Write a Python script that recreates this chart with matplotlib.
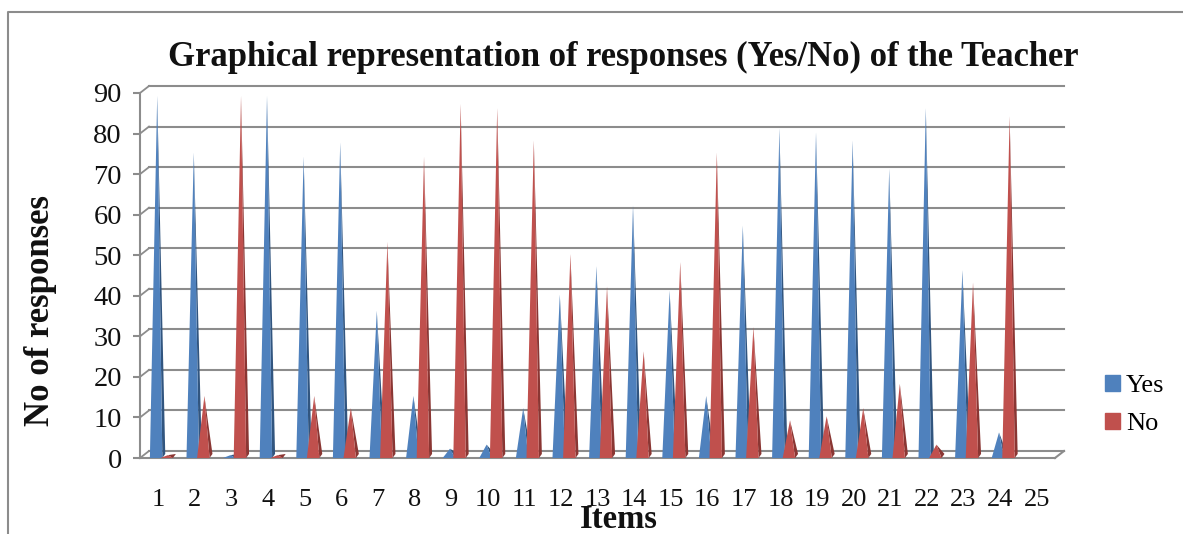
import matplotlib
matplotlib.use("Agg")
import matplotlib.pyplot as plt
import matplotlib.patches as mpatches
from matplotlib.lines import Line2D

plt.rcParams["font.family"] = ["Liberation Serif", "DejaVu Serif"]

# values
items = list(range(1, 25))
yes_values = [89, 75, 0.4, 89, 74, 77.5, 36, 15, 2, 3, 12, 40,
              47, 62, 41, 15, 57, 81, 80, 78, 71, 86, 46, 6]
no_values = [0.4, 15, 89, 0.4, 15, 12, 53, 74, 87, 86, 78, 50,
             42, 26, 48, 75, 32, 9, 10, 12, 18, 3, 43, 84]
tick_labels = [str(i) for i in range(1, 26)]
y_ticks = list(range(0, 100, 10))

W, H = 1183, 534
GRID = "#8c8c8c"
YES, YES_DARK = "#4F81BD", "#31557f"
NO, NO_DARK = "#C0504D", "#8a3633"

fig = plt.figure(figsize=(W / 100, H / 100), dpi=100)
ax = fig.add_axes([140 / W, 1 - 458 / H, (1055 - 140) / W, (458 - 93) / H])
ax.set_xlim(0.5, 25.5)
ax.set_ylim(0, 90)

# depth of the fake 3d box, in data units
dx = 9 / 36.6
dy = 7 / 4.056

for v in y_ticks:
    ax.plot([0.5, 0.5 + dx], [v, v + dy], color=GRID, lw=1.3, clip_on=False, zorder=1)
    ax.plot([0.5 + dx, 25.5 + dx], [v + dy, v + dy], color=GRID, lw=1.5, clip_on=False, zorder=1)
ax.plot([25.5, 25.5 + dx], [0, dy], color=GRID, lw=1.5, clip_on=False, zorder=1)


def cone(x, v, front, side):
    w = 0.17
    tip = x + 0.03
    ax.fill([x + w, x + w + 0.08, tip], [0, 1, v + 0.3], color=side, lw=0, clip_on=False, zorder=3)
    ax.fill([x - w, x + w, tip], [0, 0, v + 0.3], color=front, lw=0, clip_on=False, zorder=4)


for i, y, n in zip(items, yes_values, no_values):
    cone(i - 0.06, y, YES, YES_DARK)
    cone(i + 0.23, n, NO, NO_DARK)

for name in ["top", "right"]:
    ax.spines[name].set_visible(False)
for name in ["left", "bottom"]:
    ax.spines[name].set_color(GRID)
    ax.spines[name].set_linewidth(1.5)

ax.set_xticks(range(1, 26))
ax.set_xticklabels(tick_labels)
ax.set_yticks(y_ticks)
ax.tick_params(axis="x", length=0, pad=22.5, labelsize=19, labelcolor="#111")
ax.tick_params(axis="y", length=5, width=1.5, color=GRID, pad=8, labelsize=20.5, labelcolor="#111")

fig.text(623 / W, 1 - 57 / H, "Graphical representation of responses (Yes/No) of the Teacher",
         ha="center", va="center", fontsize=24.9, fontweight="bold", color="#111")
fig.text(41 / W, 1 - 311 / H, "No of responses", rotation=90,
         ha="center", va="center", fontsize=25, fontweight="bold", color="#111")
fig.text(619 / W, 1 - 519 / H, "Items",
         ha="center", va="center", fontsize=23.5, fontweight="bold", color="#111")

handles = [mpatches.Patch(color=YES, label="Yes"), mpatches.Patch(color=NO, label="No")]
fig.legend(handles=handles, loc="center left", bbox_to_anchor=(1105 / W, 1 - 405 / H),
           frameon=False, fontsize=19, handlelength=0.57, handleheight=0.57,
           handletextpad=0.23, labelspacing=0.6, borderpad=0, borderaxespad=0)

# outer chart frame, only left and top show in the crop
fig.add_artist(Line2D([8 / W, 8 / W, 1], [0, 1 - 12 / H, 1 - 12 / H],
                      color="#8c8c8c", lw=1.5, transform=fig.transFigure))

fig.savefig("out.png", dpi=100)
